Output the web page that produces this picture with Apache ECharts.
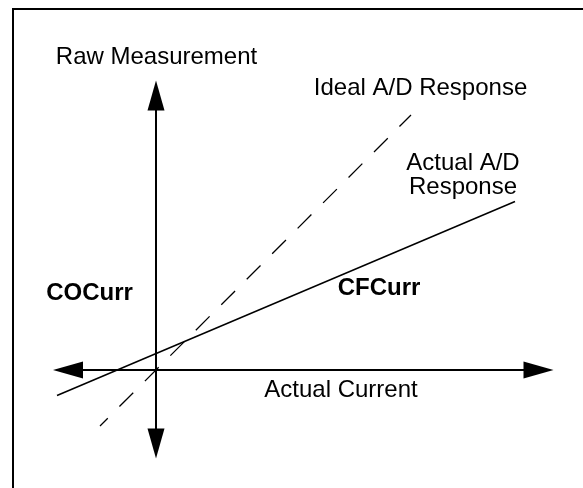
<!DOCTYPE html>
<html>
<head>
<meta charset="utf-8">
<script src="https://cdn.jsdelivr.net/npm/echarts@6/dist/echarts.min.js"></script>
<style>
  html, body { margin: 0; padding: 0; background: #fff; }
  #chart { width: 583px; height: 488px; }
</style>
</head>
<body>
<div id="chart"></div>
<script>
// 数据：任意单位（1 单位 = 10px），原点即坐标轴交点
// 可见坐标轴的范围（箭头中心）
var axisXRange = [-8.8, 38.25];
var axisYRange = [-7.35, 27.45];
// 画线用的整幅坐标系范围，比例与可见坐标轴相同
var plotXRange = [-15.6, 42.7];
var plotYRange = [-11.8, 37];
// 理想 A/D 响应（虚线，过原点）
var idealLine = [[-5.6, -5.6], [25.5, 25.5]];
// 实际 A/D 响应（实线，带偏移和较小斜率）
var actualLine = [[-9.9, -2.55], [35.9, 16.85]];

var FONT = '"Liberation Sans", Arial, Helvetica, sans-serif';

function label(text, x, y, bold) {
  return {
    type: 'text',
    x: x,
    y: y,
    silent: true,
    style: {
      text: text,
      fill: '#000',
      font: (bold ? 'bold ' : '') + '24px ' + FONT,
      textAlign: 'center',
      textVerticalAlign: 'middle'
    }
  };
}

var chart = echarts.init(document.getElementById('chart'));

var axisShown = {
  type: 'value',
  axisLine: {
    show: true,
    onZero: true,
    symbol: ['triangle', 'triangle'],
    symbolSize: [17, 30],
    lineStyle: { color: '#000', width: 2 }
  },
  axisTick: { show: false },
  axisLabel: { show: false },
  splitLine: { show: false }
};

var axisHidden = {
  type: 'value',
  show: false,
  splitLine: { show: false }
};

chart.setOption({
  animation: false,
  backgroundColor: '#fff',
  grid: [
    { left: 68, right: 44.5, top: 95.5, bottom: 44.5 },
    { left: 0, right: 0, top: 0, bottom: 0 }
  ],
  xAxis: [
    Object.assign({}, axisShown, { gridIndex: 0, min: axisXRange[0], max: axisXRange[1] }),
    Object.assign({}, axisHidden, { gridIndex: 1, min: plotXRange[0], max: plotXRange[1] })
  ],
  yAxis: [
    Object.assign({}, axisShown, { gridIndex: 0, min: axisYRange[0], max: axisYRange[1] }),
    Object.assign({}, axisHidden, { gridIndex: 1, min: plotYRange[0], max: plotYRange[1] })
  ],
  series: [
    {
      name: 'Ideal A/D Response',
      type: 'line',
      xAxisIndex: 1,
      yAxisIndex: 1,
      data: idealLine,
      showSymbol: false,
      lineStyle: { color: '#000', width: 1.3, type: [19.5, 16.5], dashOffset: 8.5 }
    },
    {
      name: 'Actual A/D Response',
      type: 'line',
      xAxisIndex: 1,
      yAxisIndex: 1,
      data: actualLine,
      showSymbol: false,
      lineStyle: { color: '#000', width: 1.5 }
    }
  ],
  graphic: [
    {
      type: 'polyline',
      silent: true,
      shape: { points: [[13, 500], [13, 9], [600, 9]] },
      style: { stroke: '#000', lineWidth: 2, fill: null }
    },
    label('Raw Measurement', 156.5, 57),
    label('Ideal A/D Response', 420.5, 88.7),
    label('Actual A/D', 463, 163.7),
    label('Response', 463, 187),
    label('COCurr', 89.5, 293.7, true),
    label('CFCurr', 379, 288.7, true),
    label('Actual Current', 341, 390.3)
  ]
});
</script>
</body>
</html>
